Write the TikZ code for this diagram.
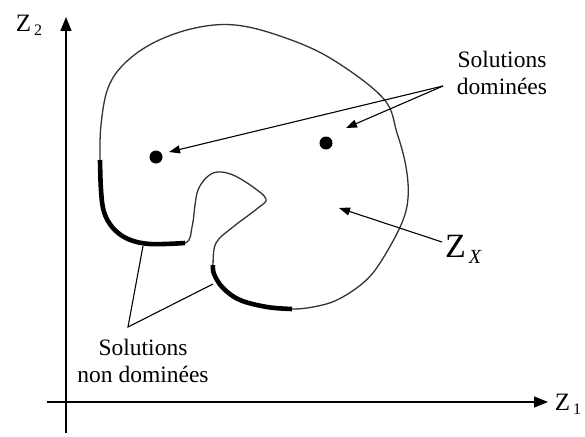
\documentclass[tikz,border=0pt]{standalone}
\usepackage{fontspec}
\setmainfont{Liberation Serif}
\usetikzlibrary{arrows.meta}
\begin{document}
\begin{tikzpicture}[x=1pt,y=-1pt,
  axis/.style={line width=1.4pt,-{Triangle[length=14pt,width=11pt]}},
  pointer/.style={line width=1.1pt,-{Triangle[length=11pt,width=8pt]}},
  plainline/.style={line width=1.1pt},
  outline/.style={line width=1.3pt,black!80},
  thickseg/.style={line width=4.6pt},
  dot/.style={circle,fill=black,inner sep=0pt,minimum size=13pt},
  lbl/.style={font=\fontsize{23.5}{27}\selectfont,align=center,inner sep=0pt}]
\useasboundingbox (0,0) rectangle (585,436);
% axes
\coordinate (o2) at (66,433);
\coordinate (t2) at (66,17);
\coordinate (o1) at (47,402);
\coordinate (t1) at (548,402);
\draw[axis] (o2) -- (t2);
\draw[axis] (o1) -- (t1);
\node[font=\fontsize{25}{25}\selectfont,inner sep=0pt] (z2) at (29,25) {Z\kern3pt\raisebox{-4pt}{\fontsize{16}{16}\selectfont 2}};
\node[font=\fontsize{25}{25}\selectfont,inner sep=0pt] (z1) at (568,404) {Z\kern3pt\raisebox{-4pt}{\fontsize{16}{16}\selectfont 1}};
% region outline
\draw[outline] plot[smooth cycle,tension=0.6] coordinates {
 (100,160) (101,125) (108,88) (125,63) (155,42) (195,28) (235,25) (280,36) (330,58) (383,98) (397,133) (406,167) (408,198) (401,225) (380,263) (363,283) (337,300) (313,307) (292,309)
 (267,307) (240,300) (223,288) (214,274) (213,265)
 (216,243) (233,227) (258,208) (266,199) (253,187) (233,175) (217,172) (206,178) (198,190) (195,205) (192,227) (185,243)
 (150,244) (128,239) (113,228) (104,212) (101,190)};
% non-dominated parts
\draw[thickseg] plot[smooth,tension=0.6] coordinates {(292,309) (267,307) (240,300) (223,288) (214,274) (213,265)};
\draw[thickseg] plot[smooth,tension=0.6] coordinates {(185,243) (150,244) (128,239) (113,228) (104,212) (101,190) (100,160)};
% dominated points
\node[dot] (d1) at (156,157) {};
\node[dot] (d2) at (326,143) {};
% labels
\node[lbl] (sd) at (502,73) {Solutions\\dominées};
\node[lbl] (snd) at (143,361) {Solutions\\non dominées};
\node[font=\fontsize{34}{34}\selectfont,inner sep=0pt] (zx) at (463,249) {Z\kern3pt\raisebox{-6pt}{\fontsize{20}{20}\selectfont\itshape X}};
% connectors
\coordinate (sdp) at (443,86);
\coordinate (d1tip) at (169,152);
\coordinate (d2tip) at (346,128);
\draw[pointer] (sdp) -- (d1tip);
\draw[pointer] (sdp) -- (d2tip);
\coordinate (zxp) at (442,242);
\coordinate (zxtip) at (339,208);
\draw[pointer] (zxp) -- (zxtip);
\coordinate (apex) at (128,327);
\coordinate (nd1) at (143,246);
\coordinate (nd2) at (213,284);
\draw[plainline] (nd1) -- (apex) -- (nd2);
\end{tikzpicture}
\end{document}
